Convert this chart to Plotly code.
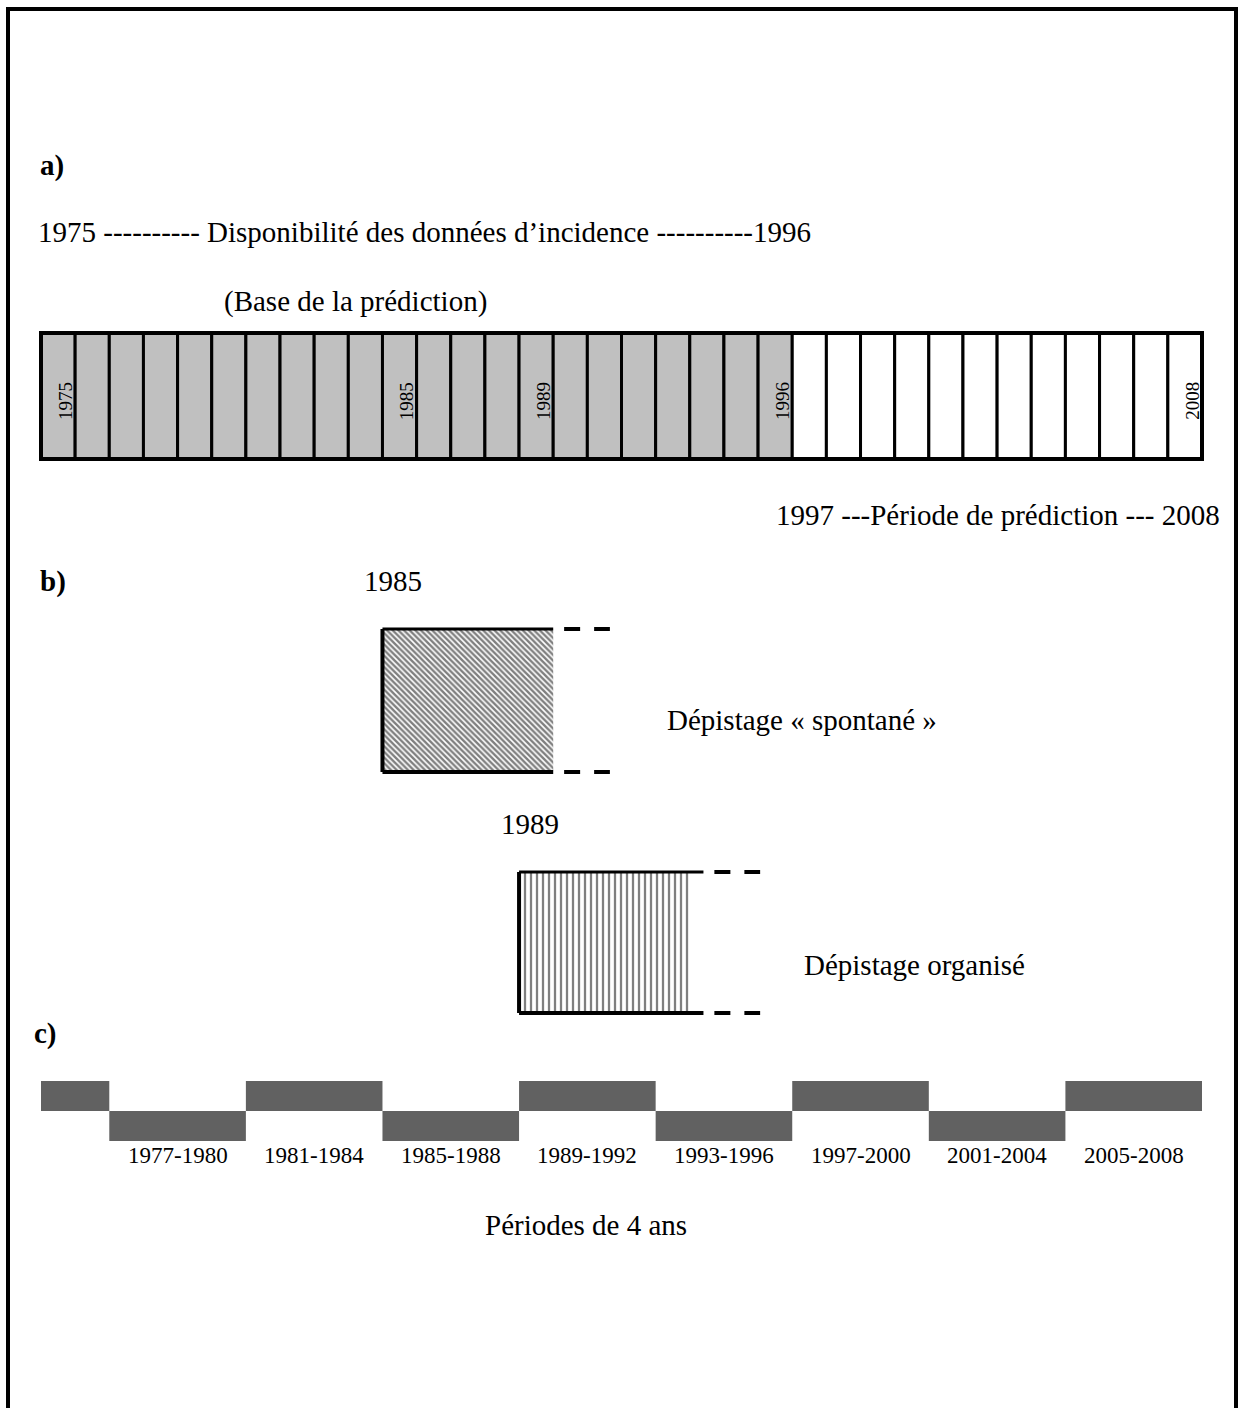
import plotly.graph_objects as go

# ---------------- data ----------------
years = list(range(1975, 2009))              # one cell per year
last_observed_year = 1996                    # incidence data available up to here
labelled_years = [1975, 1985, 1989, 1996, 2008]

period_starts = [1975, 1977, 1981, 1985, 1989, 1993, 1997, 2001, 2005]
period_ends = [1976, 1980, 1984, 1988, 1992, 1996, 2000, 2004, 2008]
period_level = ["top", "bottom", "top", "bottom", "top", "bottom", "top", "bottom", "top"]
period_labels = ["", "1977-1980", "1981-1984", "1985-1988", "1989-1992",
                 "1993-1996", "1997-2000", "2001-2004", "2005-2008"]

screen_start = [1985, 1989]
screen_end = [1990, 1994]
screen_names = ["Dépistage « spontané »", "Dépistage organisé"]

# ---------------- layout constants (pixels) ----------------
WW, HH = 1239, 1408
X0 = 41            # pixel of 1975
X1 = 1202          # pixel of end of 2008
W = (X1 - X0) / len(years)
xr = [years[0] - X0 / W, years[0] + (WW - X0) / W]

FONT = "Liberation Serif"
BIG = 29
SMALL = 23
TINY = 19


def px(x):
    return x / WW


fig = go.Figure()

# a) timeline cells
cell_colors = ["#C0C0C0" if y <= last_observed_year else "white" for y in years]
fig.add_trace(go.Bar(
    x=[y + 0.5 for y in years], y=[126] * len(years), base=333, width=1,
    marker=dict(color=cell_colors, line=dict(color="black", width=3)),
    hoverinfo="skip", showlegend=False))
fig.add_shape(type="rect", xref="x", yref="y", x0=years[0], x1=years[-1] + 1,
              y0=333, y1=459, line=dict(color="black", width=4))
for y in labelled_years:
    fig.add_annotation(x=y + 0.7, y=401, xref="x", yref="y", text=str(y),
                       textangle=-90, showarrow=False,
                       font=dict(family=FONT, size=TINY, color="black"))

# c) four-year periods
p_center = [(s + e + 1) / 2 for s, e in zip(period_starts, period_ends)]
p_width = [e + 1 - s for s, e in zip(period_starts, period_ends)]
p_base = [1081 if lv == "top" else 1111 for lv in period_level]
fig.add_trace(go.Bar(
    x=p_center, y=[30] * len(p_center), base=p_base, width=p_width,
    marker=dict(color="#616161", line=dict(width=0)),
    hoverinfo="skip", showlegend=False))
for c, lab in zip(p_center, period_labels):
    if lab:
        fig.add_annotation(x=c, y=1155, xref="x", yref="y", text=lab,
                           showarrow=False,
                           font=dict(family=FONT, size=SMALL, color="black"))

# b) screening boxes
box_y = [(629, 772), (872, 1013)]
patterns = [dict(shape="\\", fgcolor="black", bgcolor="white", size=4, solidity=0.6),
            dict(shape="|", fgcolor="black", bgcolor="white", size=6, solidity=0.38)]
line_ext = [0.0, 0.4]
for i in range(2):
    s, e = screen_start[i], screen_end[i]
    t, b = box_y[i]
    fig.add_trace(go.Scatter(
        x=[s, e, e, s, s], y=[t, t, b, b, t], fill="toself", mode="lines",
        line=dict(width=0, color="black"), fillcolor="white",
        fillpattern=patterns[i], hoverinfo="skip", showlegend=False))
    ee = e + line_ext[i]
    # left, top and bottom borders
    fig.add_trace(go.Scatter(x=[s, s], y=[t, b], mode="lines",
                             line=dict(color="black", width=4),
                             hoverinfo="skip", showlegend=False))
    fig.add_trace(go.Scatter(x=[s, ee], y=[t, t], mode="lines",
                             line=dict(color="black", width=3),
                             hoverinfo="skip", showlegend=False))
    fig.add_trace(go.Scatter(x=[s, ee], y=[b, b], mode="lines",
                             line=dict(color="black", width=4),
                             hoverinfo="skip", showlegend=False))
    # dashed continuation
    for yy in (t, b):
        fig.add_trace(go.Scatter(x=[ee + 0.32, ee + 1.66], y=[yy, yy], mode="lines",
                                 line=dict(color="black", width=4, dash="16px,14px"),
                                 hoverinfo="skip", showlegend=False))
    fig.add_annotation(x=s - 0.6, y=t - 48, xref="x", yref="y", text=str(s),
                       xanchor="left", showarrow=False,
                       font=dict(family=FONT, size=BIG, color="black"))

fig.add_annotation(x=px(665), y=720, xref="paper", yref="y", text=screen_names[0],
                   xanchor="left", showarrow=False,
                   font=dict(family=FONT, size=BIG, color="black"))
fig.add_annotation(x=px(802), y=965, xref="paper", yref="y", text=screen_names[1],
                   xanchor="left", showarrow=False,
                   font=dict(family=FONT, size=BIG, color="black"))

# texts
texts = [
    (38, 165, "<b>a)</b>"),
    (36, 232, "1975 ---------- Disponibilité des données d’incidence ----------1996"),
    (222, 301, "(Base de la prédiction)"),
    (774, 515, "1997 ---Période de prédiction --- 2008"),
    (38, 581, "<b>b)</b>"),
    (32, 1033, "<b>c)</b>"),
    (483, 1225, "Périodes de 4 ans"),
]
for x, y, t in texts:
    fig.add_annotation(x=px(x), y=y, xref="paper", yref="y", text=t,
                       xanchor="left", showarrow=False,
                       font=dict(family=FONT, size=BIG, color="black"))

# outer frame (open at the bottom)
fig.add_shape(type="rect", xref="paper", yref="y", x0=px(8), x1=px(1236),
              y0=9, y1=HH + 20, line=dict(color="black", width=4))

fig.update_layout(
    width=WW, height=HH, margin=dict(l=0, r=0, t=0, b=0),
    paper_bgcolor="white", plot_bgcolor="white", barmode="overlay",
    xaxis=dict(range=xr, visible=False, fixedrange=True),
    yaxis=dict(range=[HH, 0], visible=False, fixedrange=True),
    showlegend=False,
)

fig.write_html("out.html", config={"displayModeBar": False},
               post_script="document.body.style.margin='0';")
